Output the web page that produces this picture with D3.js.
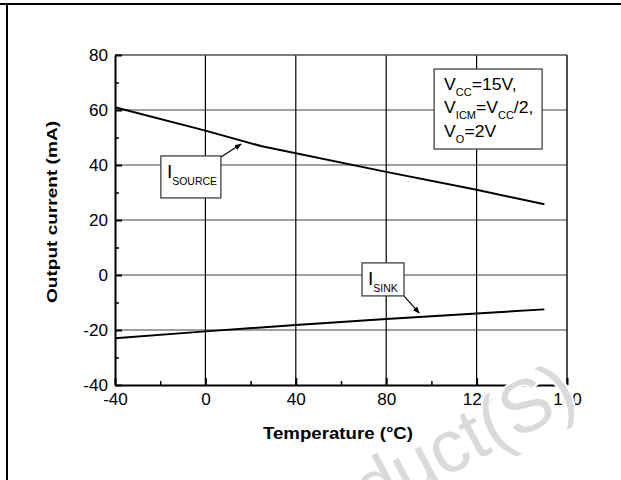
<!DOCTYPE html>
<html>
<head>
<meta charset="utf-8">
<script src="https://cdn.jsdelivr.net/npm/d3@7"></script>
<style>
  body { margin: 0; background: #fff; }
  svg { display: block; }
  text { font-family: "Liberation Sans", Arial, Helvetica, sans-serif; }
</style>
</head>
<body>
<svg id="chart" width="621" height="480"></svg>
<script>
// Output current vs. temperature
const sourceTemps   = [-40, 0, 25, 80, 120, 150];
const sourceCurrent = [61, 52.5, 46.8, 37.5, 31, 25.7];
const sinkTemps     = [-40, 0, 40, 80, 120, 150];
const sinkCurrent   = [-23, -20.5, -18.2, -16, -14, -12.5];

const xTicks = [-40, 0, 40, 80, 120, 160];
const xMinor = [-20, 20, 60, 100, 140];
const yTicks = [-40, -20, 0, 20, 40, 60, 80];
const yMinor = [-30, -10, 10, 30, 50, 70];

const xTitle = "Temperature (°C)";
const yTitle = "Output current (mA)";

const FONT = '"Liberation Sans", Arial, Helvetica, sans-serif';
const svg = d3.select("#chart");

const x = d3.scaleLinear().domain([-40, 160]).range([115, 567]);
const y = d3.scaleLinear().domain([-40, 80]).range([385, 55]);

// widen plain text horizontally by factor k
function widen(sel, k) {
  sel.each(function () {
    const w = this.getComputedTextLength();
    this.setAttribute("textLength", w * k);
    this.setAttribute("lengthAdjust", "spacingAndGlyphs");
  });
}

// page frame
svg.append("path")
  .attr("d", "M0,4H621M7,4V480")
  .attr("fill", "none").attr("stroke", "#000").attr("stroke-width", 2);

// grid
svg.append("g").selectAll("line")
  .data(yTicks.filter(v => v > -40 && v < 80)).join("line")
  .attr("x1", x(-40)).attr("x2", x(160))
  .attr("y1", d => y(d)).attr("y2", d => y(d))
  .attr("stroke", "#808080").attr("stroke-width", 1.6);

svg.append("g").selectAll("line")
  .data(xTicks.filter(v => v > -40 && v < 160)).join("line")
  .attr("x1", d => x(d)).attr("x2", d => x(d))
  .attr("y1", y(-40)).attr("y2", y(80))
  .attr("stroke", "#000").attr("stroke-width", 1.2);

// top and right borders
svg.append("line")
  .attr("x1", x(-40)).attr("x2", x(160)).attr("y1", y(80)).attr("y2", y(80))
  .attr("stroke", "#505050").attr("stroke-width", 1.6);
svg.append("line")
  .attr("x1", x(160)).attr("x2", x(160)).attr("y1", y(80)).attr("y2", y(-40))
  .attr("stroke", "#202020").attr("stroke-width", 1.6);

// axes
function styleAxis(g) {
  g.attr("font-family", FONT).attr("font-size", 16);
  g.select(".domain").attr("stroke", "#000").attr("stroke-width", 2);
  g.selectAll(".tick line").attr("stroke", "#000").attr("stroke-width", 2);
  g.selectAll(".tick text").attr("fill", "#000");
}

const gy = svg.append("g").attr("transform", `translate(${x(-40)},0)`)
  .call(d3.axisLeft(y).tickValues(yTicks).tickSize(-7).tickSizeOuter(0)
    .tickPadding(7).tickFormat(d => String(d)));
styleAxis(gy);
widen(gy.selectAll(".tick text"), 1.07);

const gyMinor = svg.append("g").attr("transform", `translate(${x(-40)},0)`)
  .call(d3.axisLeft(y).tickValues(yMinor).tickSize(-4).tickSizeOuter(0).tickFormat(""));
gyMinor.select(".domain").remove();
gyMinor.selectAll(".tick line").attr("stroke", "#000").attr("stroke-width", 1.5);

const gx = svg.append("g").attr("transform", `translate(0,${y(-40)})`)
  .call(d3.axisBottom(x).tickValues(xTicks).tickSize(-7).tickSizeOuter(0)
    .tickPadding(9).tickFormat(d => String(d)));
styleAxis(gx);
widen(gx.selectAll(".tick text"), 1.07);

const gxMinor = svg.append("g").attr("transform", `translate(0,${y(-40)})`)
  .call(d3.axisBottom(x).tickValues(xMinor).tickSize(-4).tickSizeOuter(0).tickFormat(""));
gxMinor.select(".domain").remove();
gxMinor.selectAll(".tick line").attr("stroke", "#000").attr("stroke-width", 1.5);

// axis titles
const xt = svg.append("text")
  .attr("x", 338).attr("y", 439)
  .attr("text-anchor", "middle").attr("font-weight", "bold").attr("font-size", 16)
  .text(xTitle);
xt.attr("textLength", 150).attr("lengthAdjust", "spacingAndGlyphs");

const yt = svg.append("text")
  .attr("transform", "translate(57,212) rotate(-90)")
  .attr("text-anchor", "middle").attr("font-weight", "bold").attr("font-size", 15)
  .text(yTitle);
yt.attr("textLength", 182).attr("lengthAdjust", "spacingAndGlyphs");

// curves
const line = d3.line().x(d => x(d[0])).y(d => y(d[1]));
svg.append("path")
  .datum(d3.zip(sourceTemps, sourceCurrent))
  .attr("d", line).attr("fill", "none").attr("stroke", "#000").attr("stroke-width", 2);
svg.append("path")
  .datum(d3.zip(sinkTemps, sinkCurrent))
  .attr("d", line).attr("fill", "none").attr("stroke", "#000").attr("stroke-width", 2);

// arrowhead marker
svg.append("defs").append("marker")
  .attr("id", "arrow").attr("viewBox", "0 0 10 10")
  .attr("refX", 9).attr("refY", 5)
  .attr("markerWidth", 7).attr("markerHeight", 7)
  .attr("markerUnits", "userSpaceOnUse")
  .attr("orient", "auto")
  .append("path").attr("d", "M0,1L10,5L0,9Z").attr("fill", "#000");

// curve labels: box top-left, box size, arrow from/to in data units
const curveNotes = [
  { main: "I", sub: "SOURCE", box: [-19.7, 43.3], w: 60, h: 42, from: [6.9, 42.9], to: [15.8, 47.6] },
  { main: "I", sub: "SINK",   box: [69.3, 4.4],   w: 42, h: 33, from: [87.9, -7.7], to: [94.6, -13.8] }
];

curveNotes.forEach(n => {
  svg.append("line")
    .attr("x1", x(n.from[0])).attr("y1", y(n.from[1]))
    .attr("x2", x(n.to[0])).attr("y2", y(n.to[1]))
    .attr("stroke", "#000").attr("stroke-width", 1.2)
    .attr("marker-end", "url(#arrow)");
  const g = svg.append("g").attr("transform", `translate(${x(n.box[0])},${y(n.box[1])})`);
  g.append("rect").attr("width", n.w).attr("height", n.h)
    .attr("fill", "#fff").attr("stroke", "#404040").attr("stroke-width", 1.3);
  const t = g.append("text").attr("x", 6).attr("y", 22).attr("font-size", 19).attr("fill", "#000");
  t.append("tspan").text(n.main);
  t.append("tspan").attr("font-size", 10.5).attr("dy", 7).text(n.sub);
});

// test conditions box
const condBox = { at: [101.2, 74.9], w: 108, h: 80 };
const condLines = [
  [["V", 0], ["CC", 1], ["=15V,", 0]],
  [["V", 0], ["ICM", 1], ["=V", 0], ["CC", 1], ["/2,", 0]],
  [["V", 0], ["O", 1], ["=2V", 0]]
];
const cg = svg.append("g").attr("transform", `translate(${x(condBox.at[0])},${y(condBox.at[1])})`);
cg.append("rect").attr("width", condBox.w).attr("height", condBox.h)
  .attr("fill", "#fff").attr("stroke", "#404040").attr("stroke-width", 1.3);
const ct = cg.append("g").attr("transform", "translate(10,0) scale(1.1,1)");
condLines.forEach((parts, i) => {
  const t = ct.append("text").attr("x", 0).attr("y", 21 + i * 23.3).attr("font-size", 16).attr("fill", "#000");
  let low = false;
  parts.forEach(([s, isSub]) => {
    const ts = t.append("tspan").text(s);
    if (isSub && !low) { ts.attr("font-size", 10).attr("dy", 6); low = true; }
    else if (!isSub && low) { ts.attr("dy", -6); low = false; }
    else if (isSub) ts.attr("font-size", 10);
  });
});

// watermark
svg.append("text")
  .attr("transform", "translate(581,405) rotate(-28)")
  .attr("text-anchor", "end").attr("font-size", 74)
  .attr("fill", "#dadada").attr("stroke", "#fff").attr("stroke-width", 4)
  .attr("paint-order", "stroke")
  .text("Obsolete Product(S)");
</script>
</body>
</html>
